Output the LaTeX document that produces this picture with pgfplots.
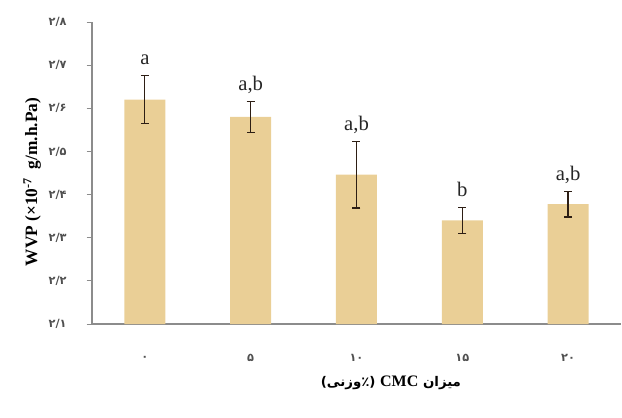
\documentclass[border=0pt]{standalone}
\usepackage{pgfplots}
\pgfplotsset{compat=1.18}
\usepackage{fontspec}
\setmainfont{Liberation Serif}
\newfontfamily\arabicfont[Script=Arabic]{DejaVu Sans}
\TeXXeTstate=1

\definecolor{bartan}{RGB}{234,207,150}
\definecolor{errcol}{RGB}{45,30,20}
\definecolor{axgray}{RGB}{140,140,140}
\definecolor{tickgray}{RGB}{80,80,80}

\begin{document}
\begin{tikzpicture}
  \path[use as bounding box] (-69pt,-70.5pt) rectangle (397.5pt,243pt);
  \begin{axis}[
      at={(0,0)}, anchor=south west,
      scale only axis,
      width=396.75pt, height=226.5pt,
      xmin=-0.5, xmax=4.5,
      ymin=2.1, ymax=2.8,
      axis x line*=bottom, axis y line*=left,
      axis line style={axgray, line width=0.8pt},
      xtick={0,1,2,3,4},
      xticklabels={{۰},{۵},{۱۰},{۱۵},{۲۰}},
      major x tick style={draw=none},
      extra x ticks={0.5,1.5,2.5,3.5,4.5},
      extra x tick labels={},
      extra x tick style={major tick length=4pt, tick align=outside, tick style={axgray, line width=0.6pt}},
      ytick={2.1,2.2,2.3,2.4,2.5,2.6,2.7,2.8},
      yticklabels={{۲/۱},{۲/۲},{۲/۳},{۲/۴},{۲/۵},{۲/۶},{۲/۷},{۲/۸}},
      y tick style={axgray, line width=0.6pt},
      major tick length=4pt, tick align=outside,
      xticklabel style={anchor=center, yshift=-21.75pt, font=\arabicfont\bfseries\fontsize{8.5}{10}\selectfont, text=tickgray},
      yticklabel style={anchor=center, xshift=-21.75pt, font=\arabicfont\bfseries\fontsize{8.5}{10}\selectfont, text=tickgray},
      every axis y label/.style={at={(axis description cs:-0.113,0.47)}, rotate=90, anchor=center,
        font=\bfseries\fontsize{13}{15}\selectfont},
      every axis x label/.style={at={(axis description cs:0.565,-0.195)}, anchor=center},
      ylabel={WVP (×10\textsuperscript{-7}\ \ g/m.h.Pa)},
      xlabel={\arabicfont\bfseries\fontsize{10}{12}\selectfont\beginR میزان \beginL{\rmfamily\bfseries\fontsize{12}{14}\selectfont CMC}\endL{} (٪وزنی)\endR},
    ]
    % bars with standard deviation
    \addplot[ybar, bar width=30.75pt, fill=bartan, draw=none,
      error bars/.cd, y dir=both, y explicit,
      error bar style={errcol, line width=0.9pt},
      error mark options={errcol, rotate=90, mark size=3pt, line width=0.9pt}]
      table[x=x, y=y, y error=e] {
        x y     e
        0 2.620 0.056
        1 2.580 0.036
        2 2.446 0.077
        3 2.340 0.030
        4 2.378 0.030
      };
    % significance letters above the error bars
    \addplot[draw=none, mark=none, nodes near coords, point meta=explicit symbolic,
      every node near coord/.style={anchor=base, yshift=8pt, inner sep=0pt,
        font=\fontsize{15.5}{17}\selectfont, text=black!85}]
      coordinates {
        (0,2.676) [a]
        (1,2.616) [a,b]
        (2,2.523) [a,b]
        (3,2.370) [b]
        (4,2.408) [a,b]
      };
  \end{axis}
\end{tikzpicture}
\end{document}
